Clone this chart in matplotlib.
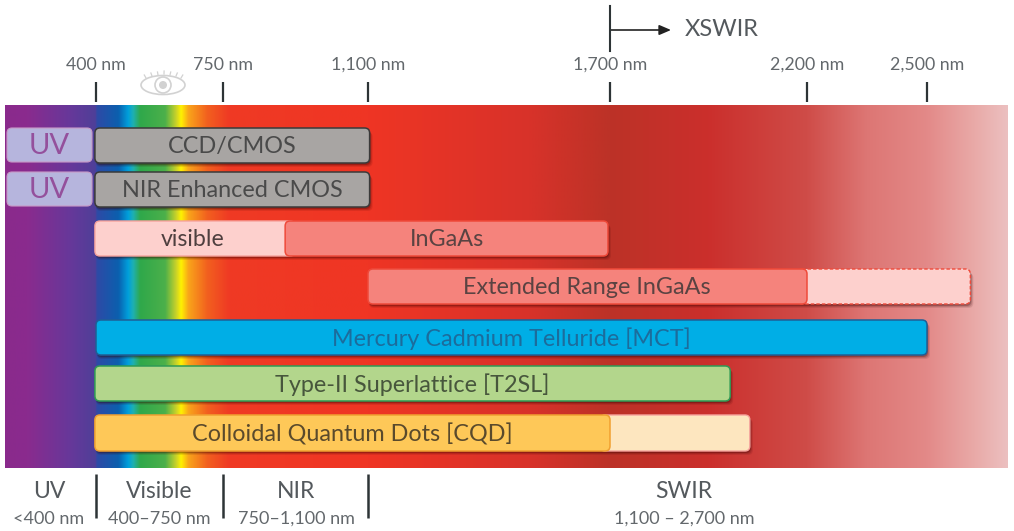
import matplotlib
matplotlib.use("Agg")
import matplotlib.pyplot as plt
import numpy as np
from matplotlib.colors import LinearSegmentedColormap, to_rgb
from matplotlib.patches import Ellipse, FancyBboxPatch, Circle

plt.rcParams["font.family"] = ["Lato", "DejaVu Sans"]

# wavelength axis is not linear in the picture: nm -> px anchors
AXIS_NM = [150, 400, 750, 1100, 1700, 2200, 2500, 2700]
AXIS_PX = [5, 96, 223, 368, 610, 807, 927, 1008]

TOP_TICKS = [400, 750, 1100, 1700, 2200, 2500]
TOP_LABELS = ["400 nm", "750 nm", "1,100 nm", "1,700 nm", "2,200 nm", "2,500 nm"]

# bars: label, start, end (nm), row top/bottom (px)
ROW_TOP = [128, 172, 221, 269, 320, 366, 415]
ROW_BOT = [163, 207, 256, 304, 355, 401, 451]
BAR_LABELS = ["CCD/CMOS", "NIR Enhanced CMOS", "InGaAs", "Extended Range InGaAs",
              "Mercury Cadmium Telluride [MCT]", "Type-II Superlattice [T2SL]",
              "Colloidal Quantum Dots [CQD]"]
BAR_START = [397, 397, 900, 1100, 400, 397, 397]
BAR_END = [1104, 1104, 1695, 2200, 2500, 2005, 1700]
BAR_COLORS = ["#a8a5a3", "#a8a5a3", "#f5837c", "#f5837c", "#00aee6", "#b3d68c", "#fec858"]
BAR_EDGES = ["#3a3a3a", "#3a3a3a", "#ef4a3a", "#ef4a3a", "#1f5f96", "#2f9a55", "#f0a030"]
TEXT_COLORS = ["#4a4a4a", "#4a4a4a", "#5a4342", "#5a4342", "#1c6c9c", "#47563c", "#5a4a2c"]

# lighter extensions of a detector range
EXT_ROW = [2, 3, 6]
EXT_START = [397, 2200, 1700]
EXT_END = [900, 2607, 2055]
EXT_COLORS = ["#fdd0cd", "#fdd0cd", "#fde6bf"]
EXT_LABELS = ["visible", "", ""]

BANDS = ["UV", "Visible", "NIR", "SWIR"]
BAND_RANGES = ["<400 nm", "400–750 nm", "750–1,100 nm", "1,100 – 2,700 nm"]
BAND_X = [49, 159, 296, 684]
BAND_TICKS = [400, 750, 1100]

# spectrum colour stops (nm)
SPEC_NM = [150, 210, 330, 397, 402, 461, 488, 502, 521, 590, 620, 634, 654, 706, 764, 1100,
           1500, 1700, 1950, 2200, 2350, 2500, 2620, 2700]
SPEC_COL = ["#8a2a8c", "#8a2b8e", "#66389a", "#4f3f98", "#2e4aa6", "#0b5fae", "#00a0dc",
            "#1fb0b0", "#2fa84a", "#4cb04a", "#c9d22a", "#fff200", "#f9a51a", "#f2601f",
            "#ef3a24", "#ef3524", "#d8322a", "#bc3227", "#cb2f2c", "#cf4c48", "#dd7674",
            "#e38988", "#e9aaa8", "#ecc0c0"]


def px(nm):
    return np.interp(nm, AXIS_NM, AXIS_PX)


def rbar(ax, x0, x1, y0, y1, fc, ec="none", lw=0.8, ls="-", z=3, r=5):
    p = FancyBboxPatch((x0 + r, y0 + r), x1 - x0 - 2 * r, y1 - y0 - 2 * r,
                       boxstyle=f"round,pad={r},rounding_size={r}",
                       fc=fc, ec=ec, lw=lw, ls=ls, zorder=z)
    ax.add_patch(p)


def shadow(ax, x0, x1, y0, y1):
    for off, a in ((4, 0.10), (3, 0.15), (2, 0.25)):
        rbar(ax, x0 + 1, x1 + off - 1, y0 + off, y1 + off, (0.2, 0, 0, a), z=2)


fig = plt.figure(figsize=(10.14, 5.31), dpi=100)
ax = fig.add_axes([0, 0, 1, 1])
ax.axis("off")

# spectrum background
stops = (px(SPEC_NM) - 5) / 1003
cmap = LinearSegmentedColormap.from_list("spec", [(s, to_rgb(c)) for s, c in zip(stops, SPEC_COL)], N=1024)
ax.imshow(np.linspace(0, 1, 1024)[None, :], cmap=cmap, extent=(5, 1008, 468, 105),
          aspect="auto", zorder=1, interpolation="bilinear")
ax.set_xlim(0, 1014)
ax.set_ylim(531, 0)

# top ticks
for t, lab in zip(TOP_TICKS, TOP_LABELS):
    ax.plot([px(t)] * 2, [82, 102], color="#2d3436", lw=1.6, solid_capstyle="butt", zorder=4)
    ax.text(px(t), 65, lab, ha="center", va="center", color="#63686c", fontsize=12.8)
ax.plot([610, 610], [6, 51], color="#2d3436", lw=1.5, zorder=4)
ax.annotate("", xy=(671, 30), xytext=(610, 30),
            arrowprops=dict(arrowstyle="-|>,head_length=0.7,head_width=0.3", color="#222222",
                            lw=1.2, shrinkA=0, shrinkB=0))
ax.text(685, 30, "XSWIR", ha="left", va="center", color="#54595d", fontsize=17)

# eye icon
EYE = "#d2d2d2"
ax.add_patch(Ellipse((163, 85), 44, 19, fc="white", ec=EYE, lw=1.2, zorder=4))
ax.add_patch(Circle((163, 85), 8, fc="white", ec=EYE, lw=1.2, zorder=4))
ax.add_patch(Circle((163, 85), 4, fc=EYE, ec="none", zorder=4))
for dx, y0, y1 in [(-17, 78, 75), (-11, 76, 73), (-5, 75, 72), (1, 74, 71), (7, 75, 72), (13, 76, 73), (18, 78, 75)]:
    ax.plot([163 + dx, 163 + dx * 1.1], [y0, y1], color=EYE, lw=0.9, zorder=4)

# UV boxes on the first two rows
for i in (0, 1):
    rbar(ax, 7, 92, ROW_TOP[i], ROW_BOT[i] - 1, "#b6b5dd", ec="#c79ac6", lw=0.8, z=3)
    ax.text(49.5, (ROW_TOP[i] + ROW_BOT[i]) / 2 + 1, "UV", ha="center", va="center",
            color="#94509c", fontsize=21, zorder=6)

# detector bars
for i, lab in enumerate(BAR_LABELS):
    x0, x1 = px(BAR_START[i]), px(BAR_END[i])
    y0, y1 = ROW_TOP[i], ROW_BOT[i]
    ext_x = [px(EXT_END[EXT_ROW.index(i)])] if i in EXT_ROW else []
    if i == 2:
        x0 = px(EXT_START[0])
    shadow(ax, x0, max([x1] + ext_x), y0, y1)

for i, row in enumerate(EXT_ROW):
    x0, x1 = px(EXT_START[i]), px(EXT_END[i])
    y0, y1 = ROW_TOP[row], ROW_BOT[row]
    dashed = row == 3
    # the extension runs under the solid bar next to it
    if row != 2:
        x0 -= 10
    else:
        x1 += 10
    rbar(ax, x0, x1, y0, y1, EXT_COLORS[i], ec="#ef4a3a" if dashed else "#f7a39d",
         lw=1.0, ls=(0, (2.5, 1.5)) if dashed else "-", z=3)
    if EXT_LABELS[i]:
        ax.text(193, (y0 + y1) / 2 + 1, EXT_LABELS[i], ha="center", va="center",
                color="#4f3f3f", fontsize=16.7, zorder=6)

for i, lab in enumerate(BAR_LABELS):
    x0, x1 = px(BAR_START[i]), px(BAR_END[i])
    y0, y1 = ROW_TOP[i], ROW_BOT[i]
    rbar(ax, x0, x1, y0, y1, BAR_COLORS[i], ec=BAR_EDGES[i], lw=1.1, z=4)
    if i == 3:
        cx = 587
    elif i == 6:
        cx = 352
    elif i == 5:
        cx = 412
    else:
        cx = (x0 + x1) / 2
    ax.text(cx, (y0 + y1) / 2 + 1, lab, ha="center", va="center", color=TEXT_COLORS[i],
            fontsize=16.8, zorder=6)

# bottom band labels
for t in BAND_TICKS:
    ax.plot([px(t)] * 2, [474, 518], color="#2d3436", lw=1.8, solid_capstyle="butt", zorder=4)
for name, rng, x in zip(BANDS, BAND_RANGES, BAND_X):
    ax.text(x, 492, name, ha="center", va="center", color="#54595d", fontsize=16.5)
    ax.text(x, 519, rng, ha="center", va="center", color="#63686c", fontsize=13)

fig.savefig("out.png", dpi=100, facecolor="white")
